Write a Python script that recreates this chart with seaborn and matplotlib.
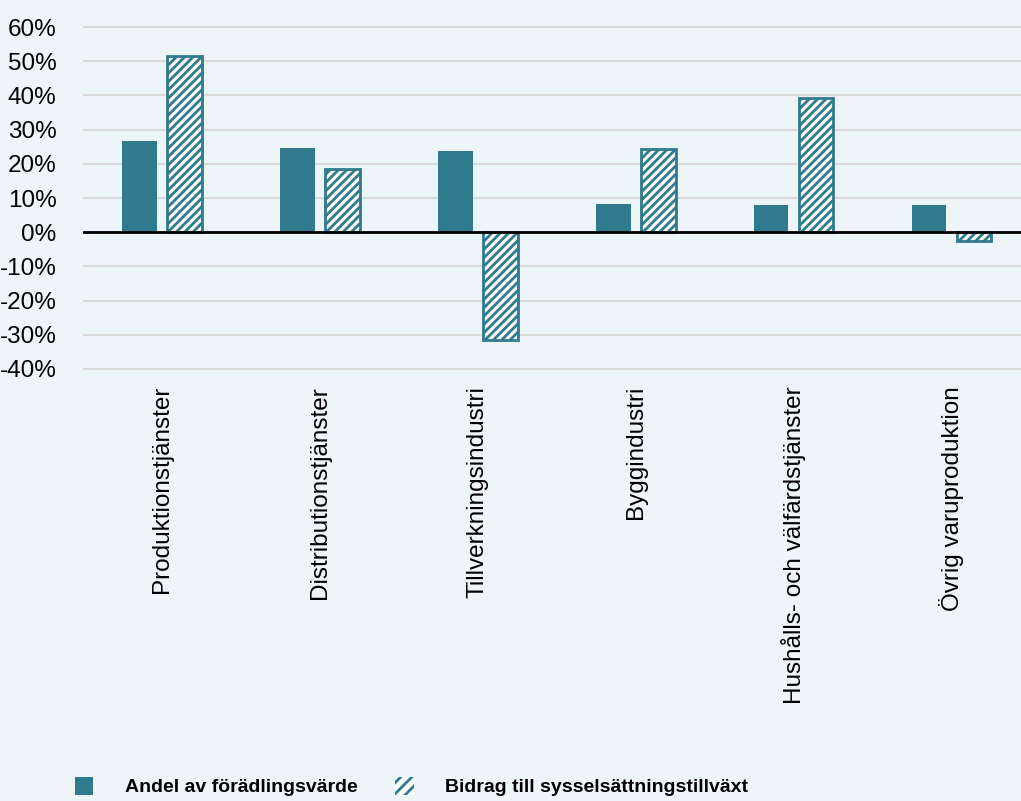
import pandas as pd
import matplotlib
matplotlib.use("Agg")
import matplotlib.pyplot as plt
import matplotlib.patches as mpatches
import seaborn as sns

sectors = [
    "Produktionstjänster",
    "Distributionstjänster",
    "Tillverkningsindustri",
    "Byggindustri",
    "Hushålls- och välfärdstjänster",
    "Övrig varuproduktion",
]
andel_forädling = [26.6, 24.6, 23.7, 8.2, 7.9, 7.9]
bidrag_syssels = [51.5, 18.4, -31.6, 24.3, 39.2, -2.6]
series_names = ["Andel av förädlingsvärde", "Bidrag till sysselsättningstillväxt"]
y_ticks = [-40, -30, -20, -10, 0, 10, 20, 30, 40, 50, 60]

teal = "#2f7b8d"
bg = "#eef5f8"

df = pd.DataFrame({
    "sektor": sectors * 2,
    "serie": [series_names[0]] * len(sectors) + [series_names[1]] * len(sectors),
    "varde": andel_forädling + bidrag_syssels,
})

sns.set_style("white")
plt.rcParams["font.family"] = ["Liberation Sans", "DejaVu Sans"]
plt.rcParams["hatch.linewidth"] = 2.0
plt.rcParams["text.color"] = "black"
plt.rcParams["xtick.color"] = "black"
plt.rcParams["ytick.color"] = "black"

fig = plt.figure(figsize=(10.21, 8.01), dpi=100, facecolor=bg)
ax = fig.add_axes([83 / 1021, 1 - 370.7 / 801, 938 / 1021, 345.4 / 801])
ax.set_facecolor(bg)

sns.barplot(
    data=df, x="sektor", y="varde", hue="serie",
    palette=[teal, "white"], width=0.57, gap=0.23,
    saturation=1, legend=False, ax=ax,
)

# second series drawn as hatched bars
for bar in ax.containers[1]:
    bar.set_facecolor("white")
    bar.set_edgecolor(teal)
    bar.set_hatch("////")
    bar.set_linewidth(2)
for bar in ax.containers[0]:
    bar.set_edgecolor("none")

ax.set_xlim(-0.5, 5.44)
ax.set_ylim(-40.5, 60.5)
ax.set_yticks(y_ticks)
ax.set_yticklabels([f"{t}%" for t in y_ticks], fontsize=17.5)
ax.tick_params(axis="y", length=0, pad=19, labelcolor="black")
ax.tick_params(axis="x", length=0, pad=11, labelcolor="black")
plt.setp(ax.get_xticklabels(), rotation=90, fontsize=17.5)
ax.set_xlabel("")
ax.set_ylabel("")

ax.grid(axis="y", color="#d9d9d9", linewidth=1.5)
ax.set_axisbelow(True)
ax.axhline(0, color="black", linewidth=2, zorder=5)
for s in ax.spines.values():
    s.set_visible(False)

handles = [
    mpatches.Patch(facecolor=teal, edgecolor="none", label=series_names[0]),
    mpatches.Patch(facecolor="white", edgecolor=teal, hatch="///", linewidth=0,
                   label=series_names[1]),
]
fig.legend(
    handles=handles, loc="lower left", bbox_to_anchor=(75 / 1021, 0.006),
    ncol=2, frameon=False, prop={"weight": "bold", "size": 14},
    handlelength=0.95, handleheight=1.05, handletextpad=1.6,
    columnspacing=1.95, borderpad=0, borderaxespad=0,
)

fig.savefig("out.png", dpi=100, facecolor=bg)
